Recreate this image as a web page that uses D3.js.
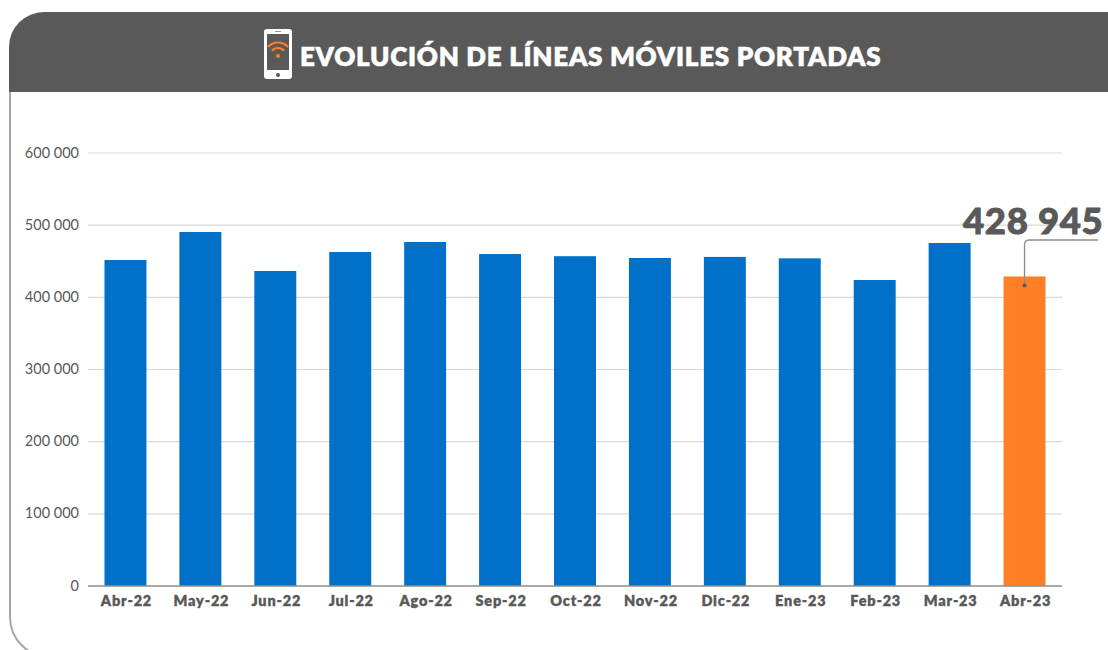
<!DOCTYPE html>
<html><head><meta charset="utf-8">
<script src="https://cdnjs.cloudflare.com/ajax/libs/d3/7.8.5/d3.min.js"></script>
<style>html,body{margin:0;padding:0;background:#fff}svg{display:block}</style>
</head><body><svg id="c" width="1108" height="650"></svg>
<script>
const categories=["Abr-22","May-22","Jun-22","Jul-22","Ago-22","Sep-22","Oct-22","Nov-22","Dic-22","Ene-23","Feb-23","Mar-23","Abr-23"];
const values=[451700,490500,436500,462800,476700,460000,457000,454500,456000,454000,424000,475300,428945];
const yTicks=[0,100000,200000,300000,400000,500000,600000];
const titleText="EVOLUCIÓN DE LÍNEAS MÓVILES PORTADAS";
const calloutText="428 945";
const blue="#0070c8",orange="#ff7f27",dark="#595959";

const svg=d3.select("#c");
const x=d3.scaleBand().domain(categories).range([88,1062]).paddingInner(0.44).paddingOuter(0.22);
const y=d3.scaleLinear().domain([0,600000]).range([586,153]);
const fmt=v=>d3.format(",")(v).replace(/,/g," ");

// frame
svg.append("path").attr("d","M10,92 V617 A40,40 0 0 0 50,657").attr("fill","none").attr("stroke","#a6a6a6").attr("stroke-width",2);
svg.append("path").attr("d","M9,92 V47 A35,35 0 0 1 44,12 H1108 V92 Z").attr("fill",dark);

// gridlines
svg.append("g").selectAll("line").data(yTicks.filter(d=>d>0)).join("line")
 .attr("x1",88).attr("x2",1062).attr("y1",d=>y(d)).attr("y2",d=>y(d))
 .attr("stroke","#d9d9d9").attr("stroke-width",1.2);

// bars
svg.append("g").selectAll("rect").data(values).join("rect")
 .attr("x",(d,i)=>x(categories[i])).attr("width",x.bandwidth())
 .attr("y",d=>y(d)).attr("height",d=>y(0)-y(d))
 .attr("fill",(d,i)=>i===values.length-1?orange:blue);

// baseline
svg.append("line").attr("x1",88).attr("x2",1062).attr("y1",y(0)).attr("y2",y(0)).attr("stroke","#8c8c8c").attr("stroke-width",1.6);

// y labels
svg.append("g").selectAll("text").data(yTicks).join("text")
 .attr("x",79).attr("y",d=>y(d)+4.5).attr("text-anchor","end")
 .attr("font-family","Lato").attr("font-size",14.5).attr("fill","#595959")
 .text(d=>fmt(d));

// x labels
svg.append("g").selectAll("text").data(categories).join("text")
 .attr("x",d=>x(d)+x.bandwidth()/2+1).attr("y",606).attr("text-anchor","middle")
 .attr("font-family","Lato").attr("font-weight",800).attr("font-size",14.5).attr("letter-spacing",0.8)
 .attr("fill","#595959").attr("stroke","#595959").attr("stroke-width",0.3)
 .text(d=>d);

// title
svg.append("text").attr("x",300).attr("y",66).attr("font-family","Lato").attr("font-weight",800)
 .attr("font-size",26).attr("letter-spacing",0.72).attr("fill","#fff").attr("stroke","#fff").attr("stroke-width",0.5).text(titleText);

// phone icon
const icon=svg.append("g").attr("transform","translate(264,29)");
icon.append("rect").attr("x",0).attr("y",0).attr("width",28).attr("height",50).attr("rx",3).attr("fill","#fff");
icon.append("rect").attr("x",3).attr("y",5).attr("width",22).attr("height",36).attr("fill",dark);
icon.append("circle").attr("cx",14).attr("cy",46).attr("r",2).attr("fill",dark);
icon.append("line").attr("x1",11).attr("x2",17).attr("y1",2.5).attr("y2",2.5).attr("stroke","#999").attr("stroke-width",1);
const arc=r=>d3.arc()({innerRadius:r-1.1,outerRadius:r+1.1,startAngle:-0.85,endAngle:0.85});
[13.5,8].forEach(r=>icon.append("path").attr("d",arc(r)).attr("transform","translate(14,27)").attr("fill",orange));
icon.append("circle").attr("cx",14).attr("cy",27).attr("r",2).attr("fill",orange);

// callout
const last=categories.length-1;
const cx=x(categories[last])+x.bandwidth()/2;
svg.append("path").attr("d",`M${cx},${y(values[last])+9} V245 Q${cx},240 ${cx+5},240 H1098`).attr("fill","none").attr("stroke","#8c8c8c").attr("stroke-width",1.3);
svg.append("circle").attr("cx",cx).attr("cy",y(values[last])+9).attr("r",2).attr("fill","#595959");
svg.append("text").attr("x",1103.5).attr("y",234).attr("text-anchor","end").attr("font-family","Lato").attr("font-weight",900)
 .attr("font-size",36.5).attr("letter-spacing",0.7).attr("fill","#595959").attr("stroke","#595959").attr("stroke-width",0.9).text(calloutText);
</script></body></html>
